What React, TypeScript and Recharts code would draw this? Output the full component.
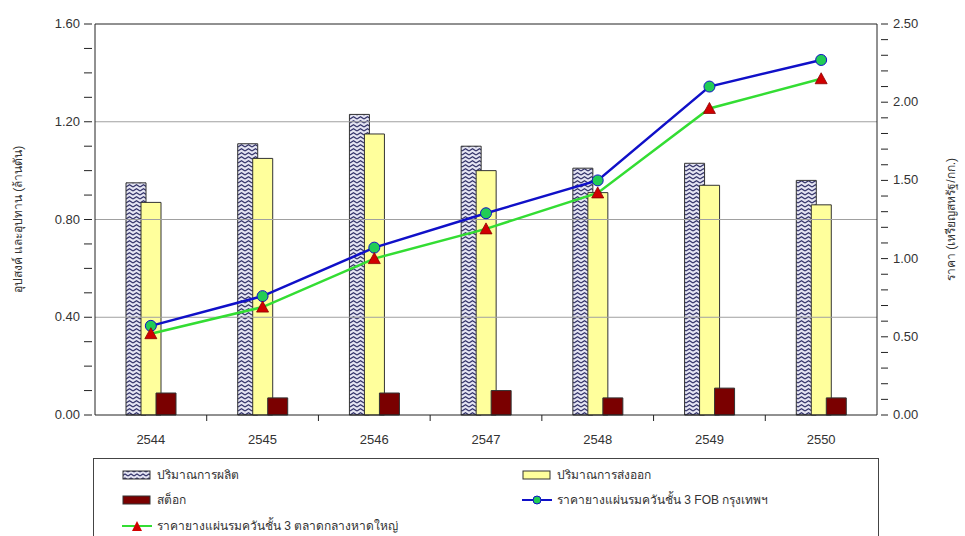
import React from "react";
import {
  ComposedChart,
  Bar,
  Line,
  XAxis,
  YAxis,
  ReferenceLine,
} from "recharts";

// ปีพุทธศักราช
const years = ["2544", "2545", "2546", "2547", "2548", "2549", "2550"];
// ล้านตัน (แกนซ้าย)
const production = [0.95, 1.11, 1.23, 1.1, 1.01, 1.03, 0.96];
const exports = [0.87, 1.05, 1.15, 1.0, 0.91, 0.94, 0.86];
const stock = [0.09, 0.07, 0.09, 0.1, 0.07, 0.11, 0.07];
// เหรียญสหรัฐ/กก. (แกนขวา)
const priceFob = [0.57, 0.76, 1.07, 1.29, 1.5, 2.1, 2.27];
const priceHatyai = [0.52, 0.69, 1.0, 1.19, 1.42, 1.96, 2.15];

const leftTicks = [0, 0.1, 0.2, 0.3, 0.4, 0.5, 0.6, 0.7, 0.8, 0.9, 1.0, 1.1, 1.2, 1.3, 1.4, 1.5, 1.6];
const leftLabelled = [0, 0.4, 0.8, 1.2, 1.6];
const rightTicks = [
  0, 0.1, 0.2, 0.3, 0.4, 0.5, 0.6, 0.7, 0.8, 0.9, 1.0, 1.1, 1.2, 1.3, 1.4, 1.5,
  1.6, 1.7, 1.8, 1.9, 2.0, 2.1, 2.2, 2.3, 2.4, 2.5,
];
const rightLabelled = [0, 0.5, 1.0, 1.5, 2.0, 2.5];
const gridLines = [0.4, 0.8, 1.2];

const LABELS = {
  production: "ปริมาณการผลิต",
  exports: "ปริมาณการส่งออก",
  stock: "สต็อก",
  fob: "ราคายางแผ่นรมควันชั้น 3 FOB กรุงเทพฯ",
  hatyai: "ราคายางแผ่นรมควันชั้น 3 ตลาดกลางหาดใหญ่",
};

const data = years.map((year, i) => ({
  year,
  production: production[i],
  exports: exports[i],
  stock: stock[i],
  fob: priceFob[i],
  hatyai: priceHatyai[i],
}));

const FONT = "Tahoma, 'Liberation Sans', Arial, sans-serif";
const TEXT = "#333";
const W = 965;
const PLOT_LEFT = 95;
const PLOT_RIGHT = 877;
const band = (PLOT_RIGHT - PLOT_LEFT) / years.length;

function near(v: number, list: number[]) {
  return list.some((l) => Math.abs(l - v) < 1e-6);
}

const LeftTick = (props: any) => {
  const { x, y, payload } = props;
  const major = near(payload.value, leftLabelled);
  return (
    <g>
      <line x1={x - 3} x2={x + 5} y1={y} y2={y} stroke="#222" />
      {major && (
        <text x={x - 7} y={y + 4} textAnchor="end" fontSize={13} fill={TEXT} fontFamily={FONT}>
          {payload.value.toFixed(2)}
        </text>
      )}
    </g>
  );
};

const RightTick = (props: any) => {
  const { x, y, payload } = props;
  const major = near(payload.value, rightLabelled);
  return (
    <g>
      <line x1={x - 4} x2={x + 3} y1={y} y2={y} stroke="#222" />
      {major && (
        <text x={x + 8} y={y + 4} textAnchor="start" fontSize={13} fill={TEXT} fontFamily={FONT}>
          {payload.value.toFixed(2)}
        </text>
      )}
    </g>
  );
};

const XTick = (props: any) => {
  const { x, y, payload, index } = props;
  return (
    <g>
      {index < years.length - 1 && (
        <line x1={x + band / 2} x2={x + band / 2} y1={y - 8} y2={y - 2} stroke="#222" />
      )}
      <text x={x} y={y + 21} textAnchor="middle" fontSize={13} fill={TEXT} fontFamily={FONT}>
        {payload.value}
      </text>
    </g>
  );
};

const Triangle = (props: any) => {
  const { cx, cy } = props;
  if (cx == null || cy == null) return null;
  return (
    <polygon
      points={`${cx},${cy - 6} ${cx - 6},${cy + 5} ${cx + 6},${cy + 5}`}
      fill="#d10000"
      stroke="#8a0000"
      strokeWidth={0.8}
    />
  );
};

function Swatch({ kind }: { kind: string }) {
  return (
    <svg width={30} height={12} style={{ marginRight: 5, flex: "none" }}>
      {kind === "production" && (
        <rect x={1} y={2} width={27} height={8} fill="url(#zigLegend)" stroke="#333" />
      )}
      {kind === "exports" && (
        <rect x={1} y={2} width={27} height={8} fill="#ffff9c" stroke="#333" />
      )}
      {kind === "stock" && (
        <rect x={1} y={2} width={27} height={8} fill="#7a0000" stroke="#333" />
      )}
      {kind === "fob" && (
        <g>
          <line x1={0} x2={30} y1={6} y2={6} stroke="#1010c8" strokeWidth={2} />
          <circle cx={15} cy={6} r={4} fill="#22cc55" stroke="#1010c8" />
        </g>
      )}
      {kind === "hatyai" && (
        <g>
          <line x1={0} x2={30} y1={6} y2={6} stroke="#33dd33" strokeWidth={2} />
          <polygon points="15,1 10,11 20,11" fill="#d10000" />
        </g>
      )}
    </svg>
  );
}

function LegendItem({ kind, left, top }: { kind: string; left: number; top: number }) {
  return (
    <div
      style={{
        position: "absolute",
        left,
        top,
        display: "flex",
        alignItems: "center",
        fontSize: 12,
        color: TEXT,
        fontFamily: FONT,
        whiteSpace: "nowrap",
      }}
    >
      <Swatch kind={kind} />
      {LABELS[kind as keyof typeof LABELS]}
    </div>
  );
}

export default function App() {
  return (
    <div
      style={{
        position: "absolute",
        left: 0,
        top: 0,
        width: W,
        height: 536,
        overflow: "hidden",
        background: "#fff",
      }}
    >
      <svg width={0} height={0} style={{ position: "absolute" }}>
        <defs>
          <pattern id="zigLegend" width={6} height={4} patternUnits="userSpaceOnUse">
            <rect width={6} height={4} fill="#e4e4f2" />
            <polyline points="0,3 3,1 6,3" fill="none" stroke="#34346a" strokeWidth={1.1} />
          </pattern>
        </defs>
      </svg>

      <ComposedChart
        width={W}
        height={456}
        data={data}
        margin={{ top: 24, right: 0, bottom: 0, left: 0 }}
        barSize={20}
        barGap={-5}
      >
        <defs>
          <pattern id="zig" width={7} height={4} patternUnits="userSpaceOnUse">
            <rect width={7} height={4} fill="#e4e4f2" />
            <polyline points="0,3 3.5,0.8 7,3" fill="none" stroke="#34346a" strokeWidth={1.3} />
          </pattern>
        </defs>

        <XAxis
          dataKey="year"
          height={41}
          tickLine={false}
          axisLine={{ stroke: "#222" }}
          tick={<XTick />}
          interval={0}
        />
        <YAxis
          yAxisId="left"
          width={PLOT_LEFT}
          domain={[0, 1.6]}
          ticks={leftTicks}
          interval={0}
          tickLine={false}
          axisLine={{ stroke: "#222" }}
          tick={<LeftTick />}
          label={{
            value: "อุปสงค์ และอุปทาน (ล้านตัน)",
            angle: -90,
            position: "insideLeft",
            offset: 18,
            style: { textAnchor: "middle", fontSize: 12, fill: TEXT, fontFamily: FONT },
          }}
        />
        <YAxis
          yAxisId="right"
          orientation="right"
          width={W - PLOT_RIGHT}
          domain={[0, 2.5]}
          ticks={rightTicks}
          interval={0}
          tickLine={false}
          axisLine={{ stroke: "#222" }}
          tick={<RightTick />}
          label={{
            value: "ราคา (เหรียญสหรัฐ/กก.)",
            angle: -90,
            position: "insideRight",
            offset: 14,
            style: { textAnchor: "middle", fontSize: 12, fill: TEXT, fontFamily: FONT },
          }}
        />

        {gridLines.map((v) => (
          <ReferenceLine key={v} yAxisId="left" y={v} stroke="#a0a0a0" />
        ))}
        <ReferenceLine yAxisId="left" y={1.6} stroke="#222" />

        <Bar
          yAxisId="left"
          dataKey="production"
          name={LABELS.production}
          fill="url(#zig)"
          stroke="#333"
          strokeWidth={1}
          isAnimationActive={false}
        />
        <Bar
          yAxisId="left"
          dataKey="exports"
          name={LABELS.exports}
          fill="#ffff9c"
          stroke="#333"
          strokeWidth={1}
          isAnimationActive={false}
        />
        <Bar
          yAxisId="left"
          dataKey="stock"
          name={LABELS.stock}
          fill="#7a0000"
          stroke="#333"
          strokeWidth={1}
          isAnimationActive={false}
        />
        <Line
          yAxisId="right"
          dataKey="fob"
          name={LABELS.fob}
          stroke="#1010c8"
          strokeWidth={2.5}
          dot={{ r: 5.5, fill: "#22cc55", stroke: "#1010c8", strokeWidth: 1 }}
          isAnimationActive={false}
        />
        <Line
          yAxisId="right"
          dataKey="hatyai"
          name={LABELS.hatyai}
          stroke="#33dd33"
          strokeWidth={2.5}
          dot={<Triangle />}
          isAnimationActive={false}
        />
      </ComposedChart>

      {/* legend box, cut at the bottom of the page like the original */}
      <div
        style={{
          position: "absolute",
          left: 93,
          top: 458,
          width: 786,
          height: 100,
          border: "1px solid #444",
          boxSizing: "border-box",
        }}
      />
      <LegendItem kind="production" left={122} top={465} />
      <LegendItem kind="exports" left={522} top={465} />
      <LegendItem kind="stock" left={122} top={490} />
      <LegendItem kind="fob" left={522} top={490} />
      <LegendItem kind="hatyai" left={122} top={516} />
    </div>
  );
}
